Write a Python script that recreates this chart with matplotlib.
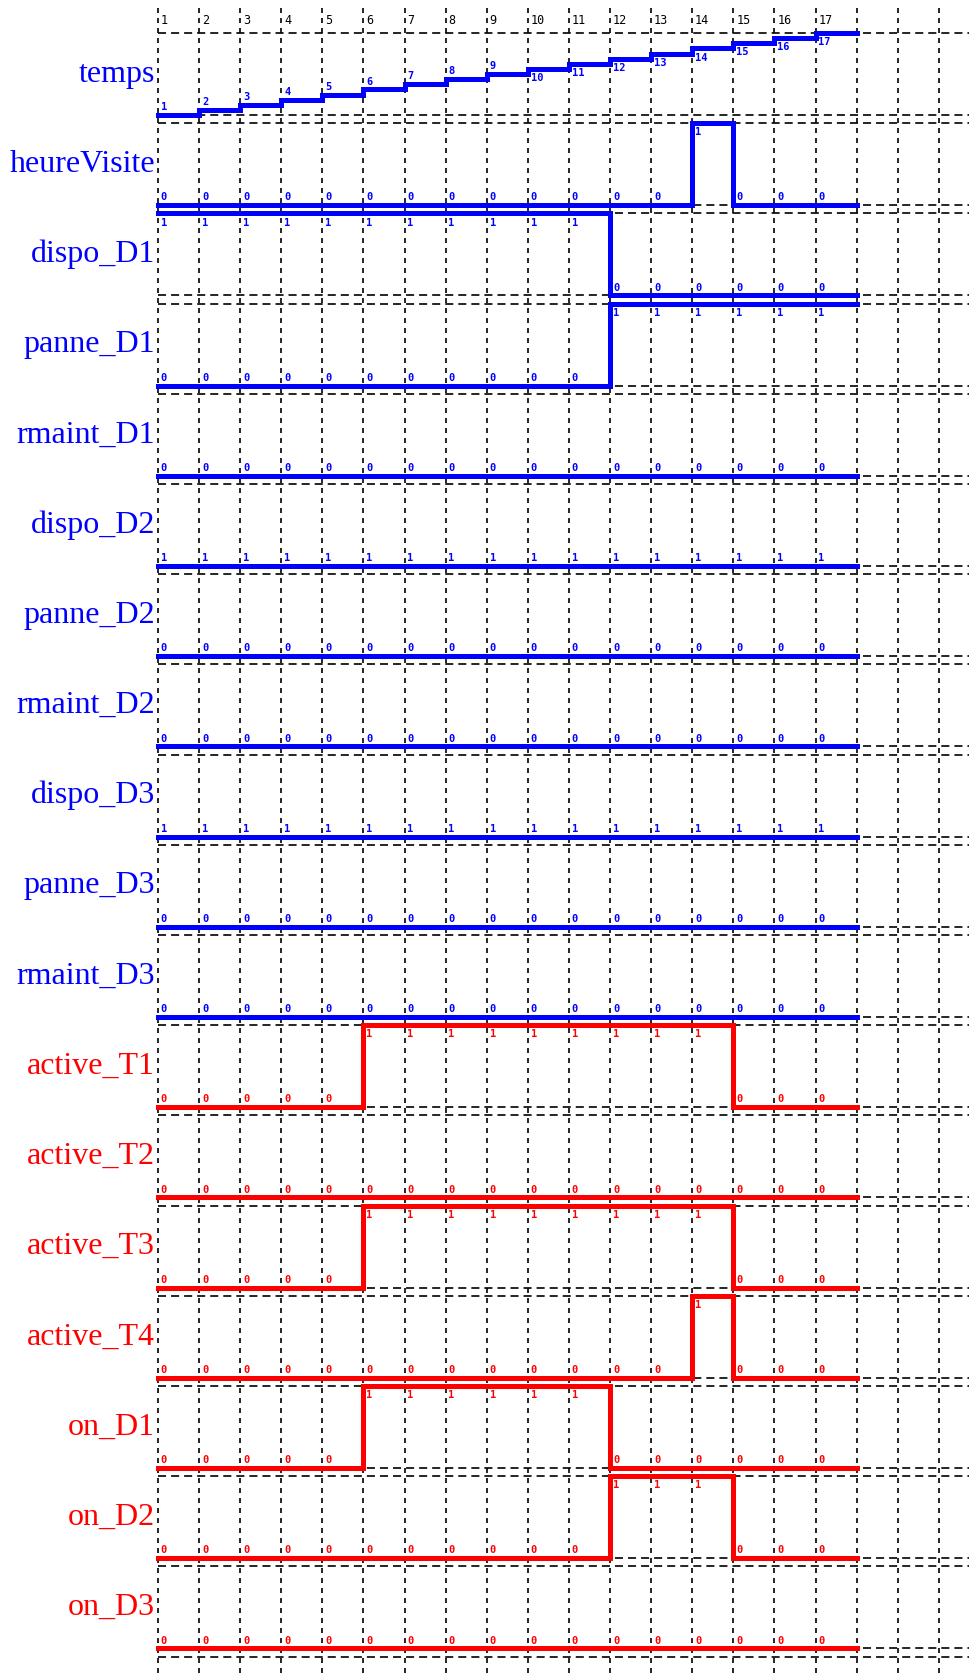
import matplotlib
matplotlib.use('Agg')
import matplotlib.pyplot as plt

# signal names and their values at t = 1..17
names = ['temps', 'heureVisite', 'dispo_D1', 'panne_D1', 'rmaint_D1',
         'dispo_D2', 'panne_D2', 'rmaint_D2', 'dispo_D3', 'panne_D3',
         'rmaint_D3', 'active_T1', 'active_T2', 'active_T3', 'active_T4',
         'on_D1', 'on_D2', 'on_D3']
steps = [1, 2, 3, 4, 5, 6, 7, 8, 9, 10, 11, 12, 13, 14, 15, 16, 17]
grid_steps = [1, 2, 3, 4, 5, 6, 7, 8, 9, 10, 11, 12, 13, 14, 15, 16, 17, 18, 19, 20]

temps       = [1, 2, 3, 4, 5, 6, 7, 8, 9, 10, 11, 12, 13, 14, 15, 16, 17]
heureVisite = [0, 0, 0, 0, 0, 0, 0, 0, 0, 0, 0, 0, 0, 1, 0, 0, 0]
dispo_D1    = [1, 1, 1, 1, 1, 1, 1, 1, 1, 1, 1, 0, 0, 0, 0, 0, 0]
panne_D1    = [0, 0, 0, 0, 0, 0, 0, 0, 0, 0, 0, 1, 1, 1, 1, 1, 1]
rmaint_D1   = [0, 0, 0, 0, 0, 0, 0, 0, 0, 0, 0, 0, 0, 0, 0, 0, 0]
dispo_D2    = [1, 1, 1, 1, 1, 1, 1, 1, 1, 1, 1, 1, 1, 1, 1, 1, 1]
panne_D2    = [0, 0, 0, 0, 0, 0, 0, 0, 0, 0, 0, 0, 0, 0, 0, 0, 0]
rmaint_D2   = [0, 0, 0, 0, 0, 0, 0, 0, 0, 0, 0, 0, 0, 0, 0, 0, 0]
dispo_D3    = [1, 1, 1, 1, 1, 1, 1, 1, 1, 1, 1, 1, 1, 1, 1, 1, 1]
panne_D3    = [0, 0, 0, 0, 0, 0, 0, 0, 0, 0, 0, 0, 0, 0, 0, 0, 0]
rmaint_D3   = [0, 0, 0, 0, 0, 0, 0, 0, 0, 0, 0, 0, 0, 0, 0, 0, 0]
active_T1   = [0, 0, 0, 0, 0, 1, 1, 1, 1, 1, 1, 1, 1, 1, 0, 0, 0]
active_T2   = [0, 0, 0, 0, 0, 0, 0, 0, 0, 0, 0, 0, 0, 0, 0, 0, 0]
active_T3   = [0, 0, 0, 0, 0, 1, 1, 1, 1, 1, 1, 1, 1, 1, 0, 0, 0]
active_T4   = [0, 0, 0, 0, 0, 0, 0, 0, 0, 0, 0, 0, 0, 1, 0, 0, 0]
on_D1       = [0, 0, 0, 0, 0, 1, 1, 1, 1, 1, 1, 0, 0, 0, 0, 0, 0]
on_D2       = [0, 0, 0, 0, 0, 0, 0, 0, 0, 0, 0, 1, 1, 1, 0, 0, 0]
on_D3       = [0, 0, 0, 0, 0, 0, 0, 0, 0, 0, 0, 0, 0, 0, 0, 0, 0]

signals = [temps, heureVisite, dispo_D1, panne_D1, rmaint_D1, dispo_D2,
           panne_D2, rmaint_D2, dispo_D3, panne_D3, rmaint_D3, active_T1,
           active_T2, active_T3, active_T4, on_D1, on_D2, on_D3]
colors = ['#0000ff'] * 11 + ['#ff0000'] * 7

# layout in pixels
W, H = 970, 1673
x0, dx = 158, 41.1          # pixel of t=1, pixels per step
y0, pitch, band = 33, 90.2, 82

plt.rcParams['lines.scale_dashes'] = False
fig = plt.figure(figsize=(W / 100, H / 100), dpi=100)
ax = fig.add_axes([0, 0, 1, 1])
ax.set_xlim(1 - x0 / dx, 1 + (W - x0) / dx)
ax.set_ylim((H - y0) / pitch, -y0 / pitch)
ax.axis('off')

bh = band / pitch
nrows = len(names)

# vertical dashed grid
ax.vlines(grid_steps, -25 / pitch, (H - y0) / pitch, colors='black',
          linewidth=1.2, linestyles=[(0, (3.6, 3.6))])

# horizontal dashed lines: top and bottom of each band, plus one after the last
tops = [i for i in range(nrows + 1)]
bottoms = [i + bh for i in range(nrows)]
ax.hlines(tops + bottoms, 1, 1 + (W - x0) / dx, colors='black',
          linewidth=1.2, linestyles=[(0, (5.8, 3.6))])

# step labels on top
for t in steps:
    ax.annotate(str(t), (t, -13 / pitch), xytext=(2, 0), textcoords='offset points',
                ha='left', va='center', fontsize=8.5, family='DejaVu Sans Mono')

for i, (name, vals, c) in enumerate(zip(names, signals, colors)):
    top, bot = i, i + bh
    vmin, vmax = min(vals), max(vals)
    if vmax == vmin:
        ys = [bot for v in vals]
        fr = [0 for v in vals]
    else:
        fr = [(v - vmin) / (vmax - vmin) for v in vals]
        ys = [bot - f * bh for f in fr]
    ax.step(steps + [steps[-1] + 1], ys + [ys[-1]], where='post',
            color=c, linewidth=3.6, solid_joinstyle='miter')
    for t, v, y, f in zip(steps, vals, ys, fr):
        if f > 0.5:
            off, va = -3, 'top'
        else:
            off, va = 2, 'bottom'
        ax.annotate(str(v), (t, y), xytext=(2, off), textcoords='offset points',
                    ha='left', va=va, fontsize=7.5, color=c, fontweight='bold',
                    family='DejaVu Sans Mono')
    ax.text(1 - 3 / dx, (top + bot) / 2, name, ha='right', va='center',
            fontsize=23, color=c, family='Liberation Serif')

fig.savefig('out.png', dpi=100)
